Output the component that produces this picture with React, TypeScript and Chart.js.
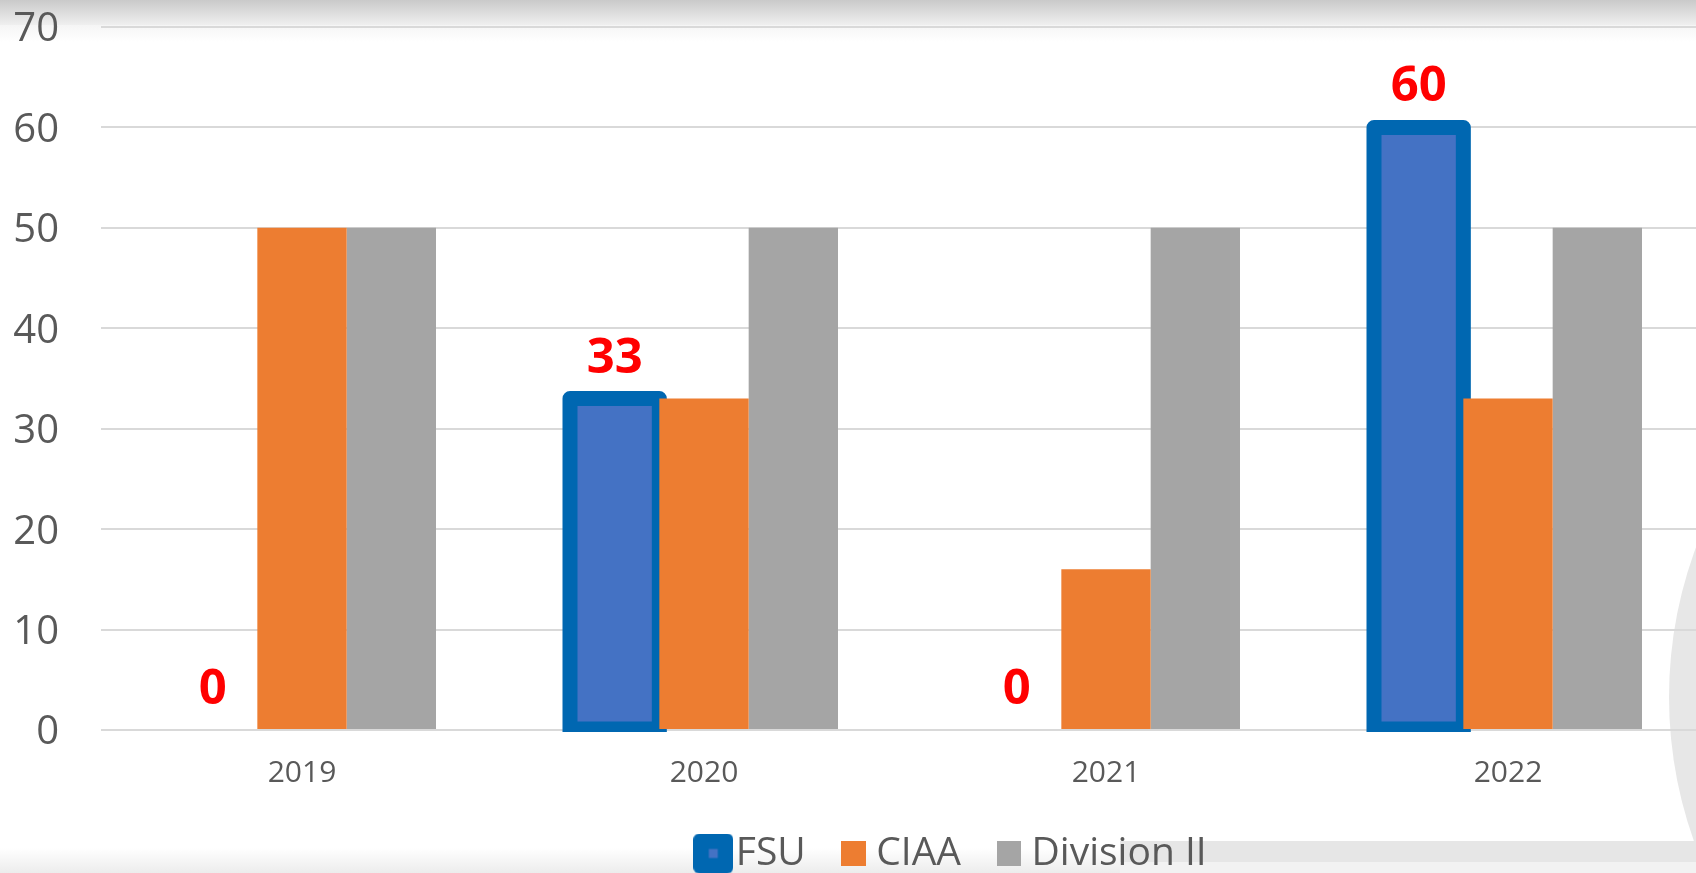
import React, { useEffect, useRef } from 'react';
import { Chart, registerables } from 'chart.js';

Chart.register(...registerables);

// ---- data ----
const YEARS = ['2019', '2020', '2021', '2022'];
const FSU = [0, 33, 0, 60];
const CIAA = [50, 33, 16, 33];
const DIVISION_II = [50, 50, 50, 50];
const SERIES_NAMES = ['FSU', 'CIAA', 'Division II'];
const Y_MIN = 0;
const Y_MAX = 70;
const Y_STEP = 10;

// ---- style ----
const FONT = "'Open Sans', 'Noto Sans', sans-serif";
const BLUE_FILL = '#4472C4';
const BLUE_BORDER = '#0067B1';
const ORANGE = '#ED7D31';
const GRAY = '#A5A5A5';
const TEXT = '#595959';
const GRID = '#D9D9D9';
const W = 1720;
const H = 900;

function makeSwatch(w: number, h: number, draw: (c: CanvasRenderingContext2D) => void) {
  const c = document.createElement('canvas');
  c.width = w;
  c.height = h;
  const ctx = c.getContext('2d') as CanvasRenderingContext2D;
  draw(ctx);
  return c;
}

export default function App() {
  const ref = useRef<HTMLCanvasElement>(null);

  useEffect(() => {
    if (!ref.current) return;

    const fsuSwatch = makeSwatch(40, 40, (c) => {
      c.fillStyle = BLUE_BORDER;
      c.beginPath();
      (c as any).roundRect(0, 0, 40, 40, 6);
      c.fill();
      c.fillStyle = BLUE_FILL;
      c.fillRect(15.5, 15.5, 9, 9);
    });
    const ciaaSwatch = makeSwatch(25, 25, (c) => {
      c.fillStyle = ORANGE;
      c.fillRect(0, 0, 25, 25);
    });
    const divSwatch = makeSwatch(24, 25, (c) => {
      c.fillStyle = GRAY;
      c.fillRect(0, 0, 24, 25);
    });
    const swatches = [fsuSwatch, ciaaSwatch, divSwatch];

    const bgPlugin = {
      id: 'bg',
      beforeDraw(chart: any) {
        const ctx = chart.ctx as CanvasRenderingContext2D;
        ctx.save();
        ctx.fillStyle = '#ffffff';
        ctx.fillRect(0, 0, W, H);
        // top shade
        let g = ctx.createLinearGradient(0, 0, 0, 25);
        g.addColorStop(0, '#CACACA');
        g.addColorStop(1, '#EFEFEF');
        ctx.fillStyle = g;
        ctx.fillRect(0, 0, W, 25);
        g = ctx.createLinearGradient(0, 25, 0, 42);
        g.addColorStop(0, '#F5F5F5');
        g.addColorStop(1, '#FFFFFF');
        ctx.fillStyle = g;
        ctx.fillRect(0, 25, W, 17);
        // right arc
        ctx.fillStyle = '#E7E7E7';
        ctx.beginPath();
        ctx.arc(2098, 697, 429, 0, Math.PI * 2);
        ctx.fill();
        // bottom shade
        g = ctx.createLinearGradient(0, 848, 0, 873);
        g.addColorStop(0, '#FFFFFF');
        g.addColorStop(1, '#ECECEC');
        ctx.fillStyle = g;
        ctx.fillRect(0, 848, W, 52);
        ctx.fillStyle = '#E6E6E6';
        ctx.fillRect(1120, 841, W, 21);
        ctx.fillStyle = '#F2F2F2';
        ctx.fillRect(1120, 862, W, 40);
        ctx.restore();
      },
    };

    const fsuPlugin = {
      id: 'fsuBars',
      beforeDatasetsDraw(chart: any) {
        const ctx = chart.ctx as CanvasRenderingContext2D;
        const area = chart.chartArea;
        const meta = chart.getDatasetMeta(0);
        ctx.save();
        ctx.beginPath();
        ctx.rect(area.left, 0, area.right - area.left, area.bottom);
        ctx.clip();
        meta.data.forEach((el: any, i: number) => {
          if (!FSU[i]) return;
          const { x, y, base, width } = el.getProps(['x', 'y', 'base', 'width'], true);
          const l = x - width / 2;
          ctx.fillStyle = BLUE_FILL;
          ctx.fillRect(l, y, width, base - y);
          ctx.strokeStyle = BLUE_BORDER;
          ctx.lineWidth = 15;
          ctx.lineJoin = 'round';
          ctx.strokeRect(l, y, width, base - y);
        });
        ctx.restore();
        ctx.save();
        meta.data.forEach((el: any, i: number) => {
          if (!FSU[i]) return;
          const { x, base, width } = el.getProps(['x', 'base', 'width'], true);
          ctx.fillStyle = BLUE_BORDER;
          ctx.fillRect(x - width / 2 - 7.5, base + 1, width + 15, 2);
        });
        ctx.restore();
      },
      afterDatasetsDraw(chart: any) {
        const ctx = chart.ctx as CanvasRenderingContext2D;
        const meta = chart.getDatasetMeta(0);
        ctx.save();
        ctx.fillStyle = '#FF0000';
        ctx.font = `bold 49px ${FONT}`;
        ctx.textAlign = 'center';
        ctx.textBaseline = 'middle';
        meta.data.forEach((el: any, i: number) => {
          const { x, y } = el.getProps(['x', 'y'], true);
          ctx.fillText(String(FSU[i]), x, y - 40);
        });
        ctx.restore();
      },
    };

    const legendShift = {
      id: 'legendShift',
      afterLayout(chart: any) {
        const lg = chart.legend;
        if (lg) {
          lg.left += 104;
          lg.right += 104;
        }
      },
    };

    const chart = new Chart(ref.current, {
      type: 'bar',
      data: {
        labels: YEARS,
        datasets: [
          { label: SERIES_NAMES[0], data: FSU, backgroundColor: 'rgba(0,0,0,0)', borderWidth: 0 },
          { label: SERIES_NAMES[1], data: CIAA, backgroundColor: ORANGE, borderWidth: 0 },
          { label: SERIES_NAMES[2], data: DIVISION_II, backgroundColor: GRAY, borderWidth: 0 },
        ],
      },
      options: {
        responsive: false,
        animation: false,
        devicePixelRatio: 1,
        layout: { padding: { top: 27, left: 0, right: 11, bottom: 17 } },
        datasets: { bar: { categoryPercentage: 2 / 3, barPercentage: 1 } },
        scales: {
          x: {
            grid: { display: false, drawTicks: false },
            border: { display: false },
            ticks: { color: TEXT, font: { family: FONT, size: 30 }, padding: 25 },
            afterFit(scale: any) {
              scale.height = 59;
            },
          },
          y: {
            min: Y_MIN,
            max: Y_MAX,
            ticks: {
              stepSize: Y_STEP,
              color: TEXT,
              font: { family: FONT, size: 40 },
              padding: 42,
              labelOffset: 3,
            },
            grid: { color: GRID, lineWidth: 2, drawTicks: false },
            border: { display: false },
            afterFit(scale: any) {
              scale.width = 101;
              scale.paddingTop = 0;
              scale.paddingBottom = 0;
            },
          },
        },
        plugins: {
          tooltip: { enabled: false },
          legend: {
            position: 'bottom',
            labels: {
              usePointStyle: true,
              boxWidth: 6,
              padding: 45,
              color: TEXT,
              font: { family: FONT, size: 39 },
              generateLabels: () =>
                SERIES_NAMES.map((name, i) => ({
                  text: name,
                  pointStyle: swatches[i] as any,
                  fillStyle: 'rgba(0,0,0,0)',
                  strokeStyle: 'rgba(0,0,0,0)',
                  lineWidth: 0,
                  hidden: false,
                  datasetIndex: i,
                  fontColor: TEXT,
                })),
            },
          },
        },
      } as any,
      plugins: [bgPlugin, fsuPlugin, legendShift],
    });

    return () => chart.destroy();
  }, []);

  return (
    <div
      style={{
        position: 'fixed',
        left: 0,
        top: 0,
        width: '100vw',
        height: '100vh',
        overflow: 'hidden',
        background: '#fff',
      }}
    >
      <canvas ref={ref} width={W} height={H} style={{ display: 'block', width: W, height: H }} />
    </div>
  );
}
